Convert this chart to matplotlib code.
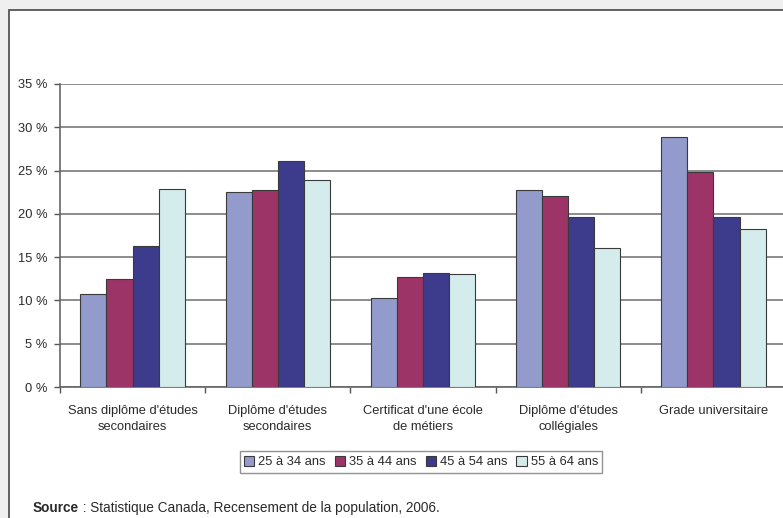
import numpy as np
import matplotlib
matplotlib.use("Agg")
import matplotlib.pyplot as plt
from matplotlib.patches import Rectangle

plt.rcParams['font.family'] = ['Liberation Sans', 'DejaVu Sans']

categories = ["Sans diplôme d'études\nsecondaires", "Diplôme d'études\nsecondaires",
              "Certificat d'une école\nde métiers", "Diplôme d'études\ncollégiales",
              "Grade universitaire"]
age_groups = ["25 à 34 ans", "35 à 44 ans", "45 à 54 ans", "55 à 64 ans"]
ages_25_34 = [10.8, 22.5, 10.3, 22.7, 28.9]
ages_35_44 = [12.5, 22.7, 12.7, 22.1, 24.8]
ages_45_54 = [16.3, 26.1, 13.2, 19.6, 19.6]
ages_55_64 = [22.9, 23.9, 13.0, 16.1, 18.2]
yticks = [0, 5, 10, 15, 20, 25, 30, 35]

colors = ['#929bcb', '#9d3467', '#3d3c8c', '#d5ecec']
series = [ages_25_34, ages_35_44, ages_45_54, ages_55_64]
FS = 9.3
TXT = '#2a2a2a'

W, H = 783, 518
fig = plt.figure(figsize=(W / 100, H / 100), dpi=100)
fig.patch.set_facecolor('#efefef')

# white chart frame
fig.patches.append(Rectangle((9 / W, -0.1), 1.2, 1 - 10 / H + 0.1,
                             transform=fig.transFigure, facecolor='white',
                             edgecolor='#555555', linewidth=1.3, zorder=-5))

ax = fig.add_axes([60 / W, 1 - 387 / H, 726 / W, 303 / H])
ax.set_facecolor('none')

x = np.arange(len(categories))
bw = 0.18
for i, (vals, c, lab) in enumerate(zip(series, colors, age_groups)):
    ax.bar(x + (i - 1.5) * bw, vals, bw, color=c, edgecolor='#3a3a3a',
           linewidth=0.8, label=lab, zorder=3)

ax.set_xlim(-0.5, len(categories) - 0.5)
ax.set_ylim(0, 35)
ax.set_yticks(yticks)
ax.set_yticklabels([f"{t} %" for t in yticks], fontsize=FS, color=TXT)
ax.yaxis.grid(True, color='#6e6e6e', linewidth=1.1, zorder=0)

ax.set_xticks(x)
ax.set_xticklabels(categories, fontsize=FS, color=TXT, linespacing=1.45)
ax.set_xticks(np.arange(len(categories) + 1) - 0.5, minor=True)
ax.tick_params(axis='x', which='major', length=0, pad=13)
ax.tick_params(axis='x', which='minor', length=4, width=1, color='#555555', direction='out')
ax.tick_params(axis='y', length=4, width=1, color='#555555', pad=5)

for s in ['top', 'right']:
    ax.spines[s].set_visible(False)
for s in ['left', 'bottom']:
    ax.spines[s].set_color('#666666')
    ax.spines[s].set_linewidth(1.2)

leg = fig.legend(loc='center', bbox_to_anchor=(421 / W, 1 - 462 / H), ncol=4,
                 fontsize=FS, frameon=True, fancybox=False, handlelength=0.8,
                 handleheight=0.8, handletextpad=0.3, columnspacing=0.7,
                 borderpad=0.35)
leg.get_frame().set_edgecolor('#777777')
leg.get_frame().set_linewidth(1.0)
for t in leg.get_texts():
    t.set_color(TXT)

t1 = fig.text(33 / W, 1 - 508 / H, "Source", fontsize=9.8, va='center',
              fontweight='bold', color=TXT)
fig.canvas.draw()
bb = t1.get_window_extent()
fig.text(bb.x1 / W, 1 - 508 / H, " : Statistique Canada, Recensement de la population, 2006.",
         fontsize=9.8, va='center', color=TXT)

fig.savefig('out.png', dpi=100, facecolor=fig.get_facecolor())
